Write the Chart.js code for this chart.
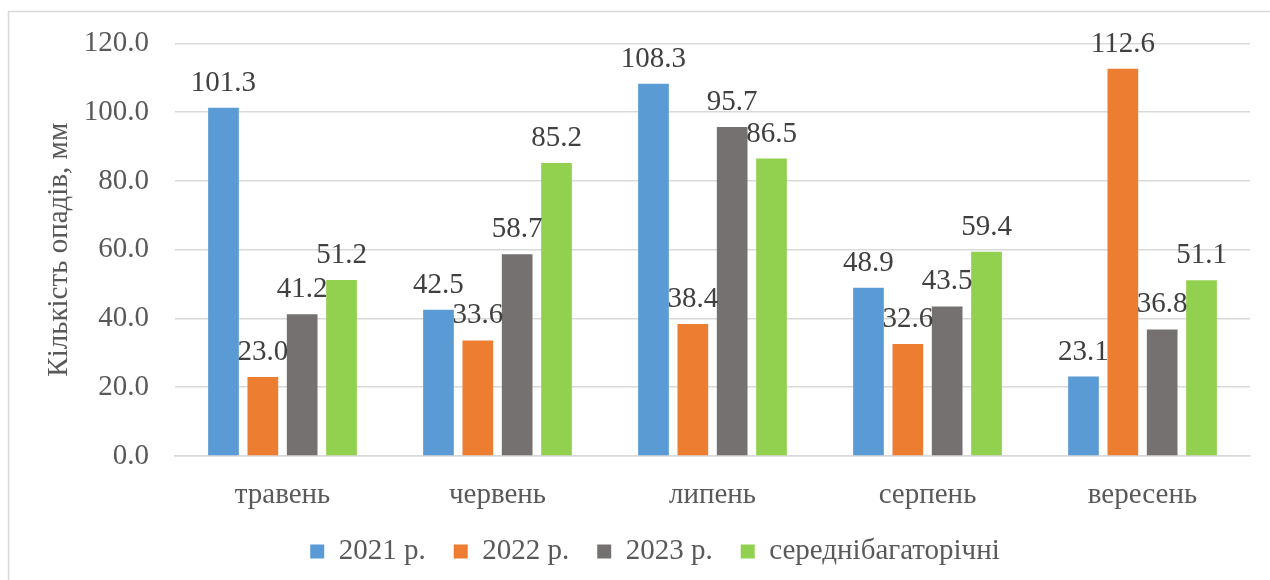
<!DOCTYPE html>
<html lang="uk">
<head>
<meta charset="utf-8">
<title>Кількість опадів</title>
<script src="https://cdn.jsdelivr.net/npm/chart.js@4"></script>
<style>
  html, body { margin: 0; padding: 0; background: #fff; overflow: hidden; }
  #wrap { position: relative; width: 1270px; height: 580px; }
</style>
</head>
<body>
<div id="wrap"><canvas id="rainChart" width="1270" height="580"></canvas></div>
<script>
const months = ['травень', 'червень', 'липень', 'серпень', 'вересень'];
const rain2021 = [101.3, 42.5, 108.3, 48.9, 23.1];
const rain2022 = [23.0, 33.6, 38.4, 32.6, 112.6];
const rain2023 = [41.2, 58.7, 95.7, 43.5, 36.8];
const rainAvg = [51.2, 85.2, 86.5, 59.4, 51.1];
const seriesNames = ['2021 р.', '2022 р.', '2023 р.', 'середнібагаторічні'];
const yMin = 0, yMax = 120, yStep = 20;

const serif = "'Liberation Serif', 'Times New Roman', serif";
const colors = ['#5b9bd5', '#ed7d31', '#767171', '#92d050'];

// frame around the chart, like the office chart border
const framePlugin = {
  id: 'frame',
  beforeDraw(chart) {
    const ctx = chart.ctx;
    ctx.save();
    ctx.strokeStyle = '#d9d9d9';
    ctx.lineWidth = 1.5;
    ctx.strokeRect(8.5, 11.5, 1400, 700);
    ctx.restore();
  }
};

// legend in the original sits a bit right of the canvas centre
const legendShift = {
  id: 'legendShift',
  afterLayout(chart) {
    if (chart.legend) {
      chart.legend.left += 30;
      chart.legend.right += 30;
    }
  }
};

// value labels above each bar
const valueLabels = {
  id: 'valueLabels',
  afterDatasetsDraw(chart) {
    const ctx = chart.ctx;
    ctx.save();
    ctx.font = `29px ${serif}`;
    ctx.fillStyle = '#404040';
    ctx.textAlign = 'center';
    ctx.textBaseline = 'alphabetic';
    chart.data.datasets.forEach((ds, i) => {
      chart.getDatasetMeta(i).data.forEach((bar, j) => {
        ctx.fillText(ds.data[j].toFixed(1), bar.x, bar.y - 17);
      });
    });
    ctx.restore();
  }
};

const ctx = document.getElementById('rainChart').getContext('2d');

new Chart(ctx, {
  type: 'bar',
  data: {
    labels: months,
    datasets: [rain2021, rain2022, rain2023, rainAvg].map((d, i) => ({
      label: seriesNames[i],
      data: d,
      backgroundColor: colors[i],
      borderWidth: 0,
      categoryPercentage: 0.732,
      barPercentage: 0.78
    }))
  },
  options: {
    responsive: false,
    animation: false,
    layout: { padding: { left: 0, right: 20, top: 42, bottom: 4 } },
    plugins: {
      legend: {
        position: 'bottom',
        labels: {
          boxWidth: 14,
          boxHeight: 14,
          padding: 28,
          color: '#595959',
          font: { family: serif, size: 29 }
        }
      },
      tooltip: { enabled: false }
    },
    scales: {
      x: {
        grid: { display: false, drawTicks: false },
        border: { color: '#d9d9d9', width: 1.5 },
        ticks: { color: '#595959', padding: 22, font: { family: serif, size: 29 } },
        afterFit(scale) { scale.height = 53; }
      },
      y: {
        min: yMin,
        max: yMax,
        grid: { color: '#d9d9d9', lineWidth: 1.5, drawTicks: false },
        border: { display: false },
        ticks: {
          stepSize: yStep,
          padding: 26,
          color: '#595959',
          font: { family: serif, size: 29 },
          callback: v => v.toFixed(1)
        },
        title: {
          display: true,
          text: 'Кількість опадів, мм',
          color: '#595959',
          font: { family: serif, size: 29 },
          padding: { top: 42, bottom: 0 }
        },
        afterFit(scale) { scale.width = 175; }
      }
    }
  },
  plugins: [framePlugin, legendShift, valueLabels]
});
</script>
</body>
</html>
